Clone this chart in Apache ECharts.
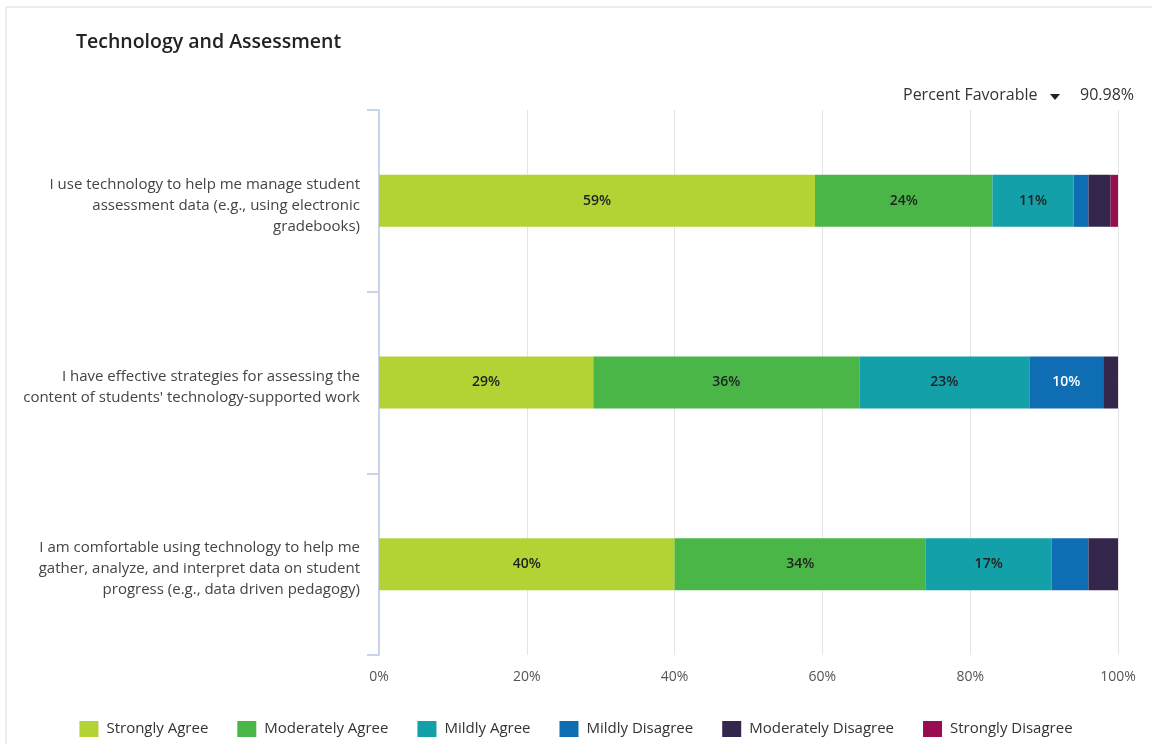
<!DOCTYPE html>
<html>
<head>
<meta charset="utf-8">
<script src="https://cdn.jsdelivr.net/npm/echarts@6/dist/echarts.min.js"></script>
<style>
  html, body { margin: 0; padding: 0; background: #fff; }
  #chart { width: 1152px; height: 744px; }
</style>
</head>
<body>
<div id="chart"></div>
<script>
// Survey statements (top to bottom)
const categories = [
  'I use technology to help me manage student\nassessment data (e.g., using electronic\ngradebooks)',
  'I have effective strategies for assessing the\ncontent of students\' technology-supported work',
  'I am comfortable using technology to help me\ngather, analyze, and interpret data on student\nprogress (e.g., data driven pedagogy)'
];

// Response shares in percent, one array per answer option
const stronglyAgree      = [59, 29, 40];
const moderatelyAgree    = [24, 36, 34];
const mildlyAgree        = [11, 23, 17];
const mildlyDisagree     = [2, 10, 5];
const moderatelyDisagree = [3, 2, 4];
const stronglyDisagree   = [1, 0, 0];

const xTicks = [0, 20, 40, 60, 80, 100];
const percentFavorable = '90.98%';

const FONT = '"Open Sans", "Noto Sans", sans-serif';

const seriesDefs = [
  { name: 'Strongly Agree',      data: stronglyAgree,      color: '#b3d335', text: '#222' },
  { name: 'Moderately Agree',    data: moderatelyAgree,    color: '#4bb648', text: '#222' },
  { name: 'Mildly Agree',        data: mildlyAgree,        color: '#13a0a8', text: '#222' },
  { name: 'Mildly Disagree',     data: mildlyDisagree,     color: '#0f6db3', text: '#fff' },
  { name: 'Moderately Disagree', data: moderatelyDisagree, color: '#35264b', text: '#fff' },
  { name: 'Strongly Disagree',   data: stronglyDisagree,   color: '#990d50', text: '#fff' }
];

const chart = echarts.init(document.getElementById('chart'), null, { renderer: 'canvas' });

chart.setOption({
  animation: false,
  textStyle: { fontFamily: FONT },
  title: {
    text: 'Technology and Assessment',
    left: 71,
    top: 27,
    textStyle: { fontFamily: FONT, fontSize: 19.5, fontWeight: 600, color: '#222' }
  },
  legend: {
    top: 716,
    left: 'center',
    itemWidth: 19,
    itemHeight: 16,
    itemGap: 29,
    icon: 'rect',
    textStyle: { fontFamily: FONT, fontSize: 15, color: '#333', padding: [0, 0, 0, 3] },
    data: seriesDefs.map(s => s.name)
  },
  grid: { left: 379, right: 34, top: 110, bottom: 89 },
  xAxis: {
    type: 'value',
    min: xTicks[0],
    max: xTicks[xTicks.length - 1],
    interval: xTicks[1] - xTicks[0],
    axisLine: { show: false },
    axisTick: { show: false },
    splitLine: { lineStyle: { color: '#e4e4e4', width: 1 } },
    axisLabel: { formatter: '{value}%', color: '#555', fontSize: 14, margin: 15, fontFamily: FONT }
  },
  yAxis: {
    type: 'category',
    inverse: true,
    data: categories,
    axisLine: { show: true, lineStyle: { color: '#c6d5e8', width: 2 } },
    axisTick: { show: true, length: 12, alignWithLabel: false, lineStyle: { color: '#c6d5e8', width: 2 } },
    axisLabel: {
      color: '#444', fontSize: 15, lineHeight: 21, margin: 19, align: 'right', fontFamily: FONT,
      // a short empty leading line nudges the text block slightly below the bar centre
      formatter: v => '{gap|}\n' + v.split('\n').map(l => '{t|' + l + '}').join('\n'),
      rich: {
        gap: { lineHeight: 9, fontSize: 1 },
        t: { color: '#444', fontSize: 15, lineHeight: 21, fontFamily: FONT, align: 'right' }
      }
    }
  },
  graphic: [
    { type: 'line', silent: true, shape: { x1: 6, y1: 7, x2: 1152, y2: 7 }, style: { stroke: '#dcdcdc', lineWidth: 1 } },
    { type: 'line', silent: true, shape: { x1: 6, y1: 7, x2: 6, y2: 744 }, style: { stroke: '#dcdcdc', lineWidth: 1 } },
    { type: 'text', left: 903, top: 87, style: { text: 'Percent Favorable', fontFamily: FONT, fontSize: 16, fill: '#333' } },
    { type: 'polygon', shape: { points: [[1050, 94], [1060, 94], [1055, 100]] }, style: { fill: '#222' } },
    { type: 'text', left: 1080, top: 87, style: { text: percentFavorable, fontFamily: FONT, fontSize: 16, fill: '#333' } }
  ],
  series: seriesDefs.map(s => ({
    name: s.name,
    type: 'bar',
    stack: 'total',
    barWidth: 52,
    data: s.data,
    itemStyle: { color: s.color },
    label: {
      show: true,
      position: 'inside',
      color: s.text,
      fontSize: 14,
      fontWeight: 600,
      fontFamily: FONT,
      formatter: p => (p.value >= 10 ? p.value + '%' : '')
    },
    emphasis: { disabled: true }
  }))
});
</script>
</body>
</html>
